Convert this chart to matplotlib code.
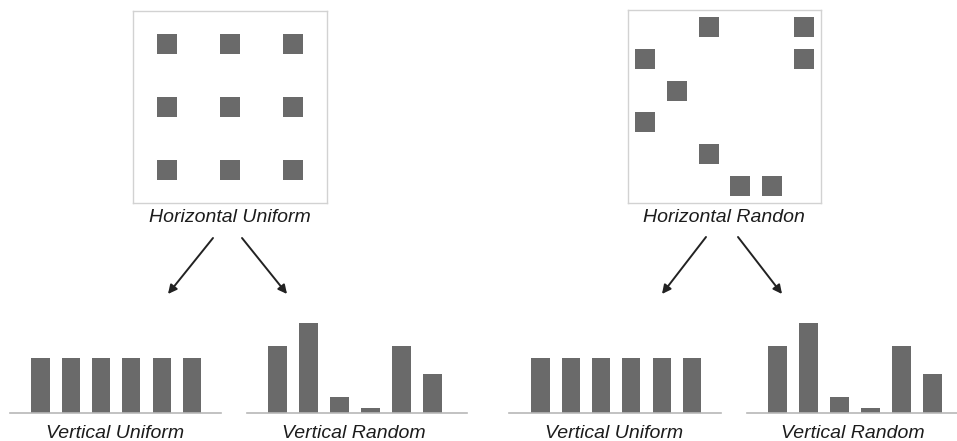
import matplotlib.pyplot as plt

plt.rcParams['font.family'] = ['Liberation Sans', 'DejaVu Sans']

W, H = 957, 441

# square positions (grid column, grid row) in the two top panels
uniform_cols = [0, 1, 2, 0, 1, 2, 0, 1, 2]
uniform_rows = [0, 0, 0, 1, 1, 1, 2, 2, 2]
random_cols = [2, 5, 0, 5, 1, 0, 2, 3, 4]
random_rows = [0, 0, 1, 1, 2, 3, 4, 5, 5]

# bar heights of the four bottom panels
uniform_heights = [55, 55, 55, 55, 55, 55]
random_heights = [67, 90, 16, 5, 67, 39]

top_titles = ["Horizontal Uniform", "Horizontal Randon"]
bottom_titles = ["Vertical Uniform", "Vertical Random"]

grey = '#6a6a6a'


def px_axes(fig, x0, y0, x1, y1):
    # axes from pixel box (top-left origin)
    return fig.add_axes([x0 / W, (H - y1) / H, (x1 - x0) / W, (y1 - y0) / H])


def square_panel(fig, box, cols, rows, n):
    ax = px_axes(fig, *box)
    ax.scatter(cols, rows, s=190, marker='s', color=grey, linewidths=0)
    ax.set_xlim(-0.53, n - 0.47)
    ax.set_ylim(n - 0.47, -0.53)
    ax.set_xticks([])
    ax.set_yticks([])
    for s in ax.spines.values():
        s.set_color('#d2d2d2')
        s.set_linewidth(1.0)
    return ax


def bar_panel(fig, x0, x1, first, step, heights):
    ax = px_axes(fig, x0, 313, x1, 413)
    ax.bar(range(len(heights)), heights, width=0.6, color=grey)
    ax.set_xlim((x0 - first) / step, (x1 - first) / step)
    ax.set_ylim(0, 100)
    ax.set_xticks([])
    ax.set_yticks([])
    for k in ['top', 'left', 'right']:
        ax.spines[k].set_visible(False)
    ax.spines['bottom'].set_color('#b8b8b8')
    ax.spines['bottom'].set_linewidth(1.2)
    ax.patch.set_alpha(0)
    return ax


fig = plt.figure(figsize=(W / 100, H / 100), dpi=100)

square_panel(fig, (133, 11, 327, 203), uniform_cols, uniform_rows, 3)
square_panel(fig, (628, 10, 821, 203), random_cols, random_rows, 6)

bar_panel(fig, 10, 221, 40.5, 30.3, uniform_heights)
bar_panel(fig, 247, 467, 277.5, 31.0, random_heights)
bar_panel(fig, 509, 721, 540.5, 30.3, uniform_heights)
bar_panel(fig, 747, 957, 777.5, 31.0, random_heights)

# overlay for labels and arrows
over = fig.add_axes([0, 0, 1, 1])
over.set_xlim(0, W)
over.set_ylim(H, 0)
over.axis('off')

txt = dict(fontsize=14, style='italic', color='#1c1c1c', ha='center', va='baseline')
over.text(230, 222, top_titles[0], **txt)
over.text(724, 222, top_titles[1], **txt)
over.text(115, 438, bottom_titles[0], **txt)
over.text(354, 438, bottom_titles[1], **txt)
over.text(614, 438, bottom_titles[0], **txt)
over.text(853, 438, bottom_titles[1], **txt)

arrows = [((213, 238), (168, 294)), ((242, 238), (287, 294)),
          ((706, 237), (662, 294)), ((738, 237), (782, 294))]
for start, end in arrows:
    over.annotate('', xy=end, xytext=start,
                  arrowprops=dict(arrowstyle='-|>', color='#222222', lw=1.4,
                                  mutation_scale=13, shrinkA=0, shrinkB=0))

fig.savefig('out.png', dpi=100)
